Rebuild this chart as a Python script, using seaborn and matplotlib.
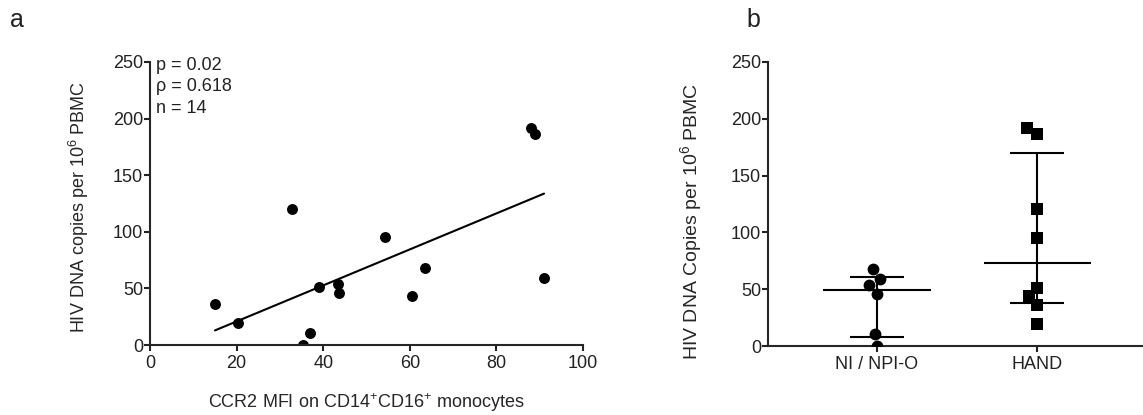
import numpy as np
import pandas as pd
import matplotlib
matplotlib.use('Agg')
import matplotlib.pyplot as plt
import seaborn as sns

# values
ccr2_mfi = [88.0, 88.9, 32.9, 54.3, 39.0, 60.5, 15.0, 20.4,
            63.4, 43.4, 91.0, 43.7, 36.9, 35.4]
hiv_dna = [191.6, 186.3, 120.3, 95.4, 51.2, 43.6, 36.2, 19.2,
           67.7, 53.6, 58.9, 45.6, 10.3, 0.0]
group = ['HAND'] * 8 + ['NI / NPI-O'] * 6
group_order = ['NI / NPI-O', 'HAND']
group_markers = ['o', 's']
stats_text = ['p = 0.02', '\u03c1 = 0.618', 'n = 14']

df = pd.DataFrame({'mfi': ccr2_mfi, 'dna': hiv_dna, 'group': group})

sns.set_style('ticks')
plt.rcParams['font.family'] = ['Liberation Sans', 'DejaVu Sans']
plt.rcParams['mathtext.fontset'] = 'custom'
plt.rcParams['mathtext.rm'] = 'Liberation Sans'
plt.rcParams['mathtext.it'] = 'Liberation Sans:italic'
plt.rcParams['mathtext.bf'] = 'Liberation Sans:bold'
plt.rcParams['axes.linewidth'] = 1.5
plt.rcParams['xtick.major.width'] = 1.5
plt.rcParams['ytick.major.width'] = 1.5
plt.rcParams['xtick.major.size'] = 4.5
plt.rcParams['ytick.major.size'] = 4.5
plt.rcParams['xtick.major.pad'] = 2.5
plt.rcParams['ytick.major.pad'] = 0.5
plt.rcParams['text.color'] = '#222222'
plt.rcParams['xtick.color'] = '#222222'
plt.rcParams['ytick.color'] = '#222222'

W, H = 1143, 415
fig = plt.figure(figsize=(W / 100, H / 100), dpi=100)
ax1 = fig.add_axes([150 / W, 70 / H, (583 - 150) / W, (345 - 62) / H])
ax2 = fig.add_axes([768 / W, 69 / H, (W - 768) / W, (346 - 62) / H])

# panel a
sns.regplot(data=df, x='mfi', y='dna', ax=ax1, ci=None, color='black',
            scatter_kws={'s': 62, 'linewidths': 0, 'alpha': 1},
            line_kws={'lw': 1.5})
ax1.set_xlim(0, 100)
ax1.set_ylim(0, 250)
ax1.set_xticks([0, 20, 40, 60, 80, 100])
ax1.set_yticks([0, 50, 100, 150, 200, 250])
ax1.set_xlabel(r'CCR2 MFI on CD14$^{+}$CD16$^{+}$ monocytes', fontsize=13)
ax1.set_ylabel(r'HIV DNA copies per 10$^{6}$ PBMC', fontsize=13)
ax1.xaxis.set_label_coords(0.5, -0.165)
ax1.yaxis.set_label_coords(-0.137, 0.486)
ax1.tick_params(labelsize=13)
for i, t in enumerate(stats_text):
    ax1.text(0.014, 0.989 - i * 0.076, t, transform=ax1.transAxes,
             fontsize=13, va='center', ha='left')
sns.despine(ax=ax1)

# panel b
for g, m in zip(group_order, group_markers):
    sub = df[df['group'] == g]
    sns.swarmplot(data=sub, x='group', y='dna', order=group_order, ax=ax2,
                  marker=m, color='black', size=8.5, linewidth=0)
for i, g in enumerate(group_order):
    vals = df.loc[df['group'] == g, 'dna'].to_numpy()
    med = np.median(vals)
    q1, q3 = np.percentile(vals, [25, 75], method='weibull')
    ax2.hlines(med, i - 0.335, i + 0.335, color='black', lw=1.5, zorder=3)
    ax2.vlines(i, q1, q3, color='black', lw=1.5, zorder=3)
    ax2.hlines([q1, q3], i - 0.17, i + 0.17, color='black', lw=1.5, zorder=3)
ax2.set_xlim(-0.68, 1.66)
ax2.set_ylim(0, 250)
ax2.set_yticks([0, 50, 100, 150, 200, 250])
ax2.set_xlabel('')
ax2.set_ylabel(r'HIV DNA Copies per 10$^{6}$ PBMC', fontsize=14)
ax2.yaxis.set_label_coords(-0.171, 0.44)
ax2.tick_params(labelsize=13)
sns.despine(ax=ax2)

fig.text(10 / W, 1 - 20 / H, 'a', fontsize=18, va='center', ha='left')
fig.text(746 / W, 1 - 20 / H, 'b', fontsize=18, va='center', ha='left')

fig.savefig('out.png', dpi=100)
